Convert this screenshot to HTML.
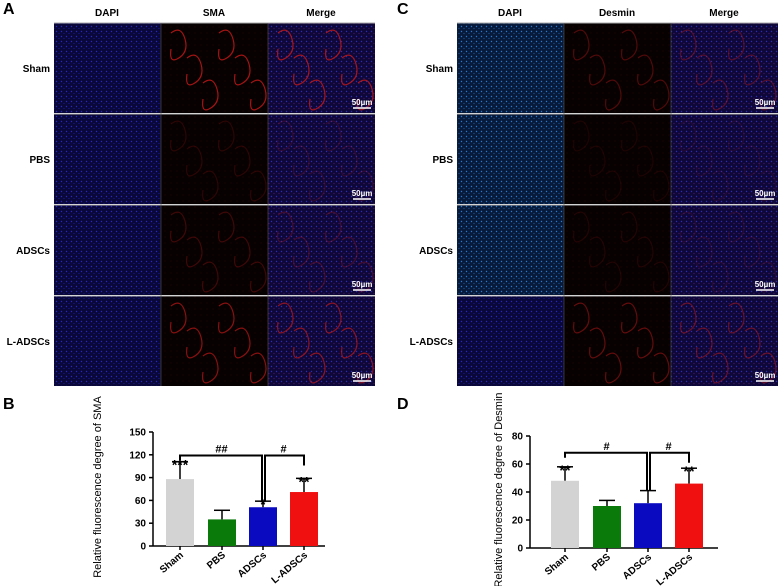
<!DOCTYPE html>
<html><head><meta charset="utf-8">
<style>
body{margin:0;background:#fff;}
svg{display:block;font-family:"Liberation Sans",Arial,sans-serif;}
.hd{font-size:10px;font-weight:bold;}
.rl{font-size:10px;font-weight:bold;}
.pl{font-size:16px;font-weight:bold;}
.tk{font-size:10px;font-weight:bold;}
.sig{font-size:12px;font-weight:bold;}
</style></head>
<body>
<svg id="fig" width="778" height="586" viewBox="0 0 778 586">
<defs>
<pattern id="pBlue" width="5" height="5" patternUnits="userSpaceOnUse">
<rect width="5" height="5" fill="#0a0838"/><circle cx="1.5" cy="1.5" r="0.7" fill="#2a28c0"/><circle cx="4" cy="3.5" r="0.6" fill="#1a18a0"/></pattern>
<pattern id="pCyan" width="5" height="5" patternUnits="userSpaceOnUse">
<rect width="5" height="5" fill="#081a3a"/><circle cx="1.5" cy="1.5" r="0.7" fill="#2a7ad0"/><circle cx="4" cy="3.5" r="0.6" fill="#1a58a0"/></pattern>
<pattern id="pRed" width="6" height="6" patternUnits="userSpaceOnUse">
<rect width="6" height="6" fill="#070101"/><circle cx="3" cy="3" r="0.5" fill="#300606"/></pattern>
<pattern id="pMerge" width="5" height="5" patternUnits="userSpaceOnUse">
<rect width="5" height="5" fill="#0e0838"/><circle cx="1.5" cy="1.5" r="0.7" fill="#2c2cb8"/><circle cx="4" cy="3.5" r="0.6" fill="#4a1868"/></pattern>
</defs>
<g id="micro"></g>
<g id="chartB"></g>
<g id="chartD"></g>
</svg>
<script>
const NS="http://www.w3.org/2000/svg";
function mk(parent,tag,attrs,txt){const e=document.createElementNS(NS,tag);for(const k in attrs)e.setAttribute(k,attrs[k]);if(txt!==undefined)e.textContent=txt;parent.appendChild(e);return e;}

// ---- micrograph panels ----
const rows=["Sham","PBS","ADSCs","L-ADSCs"];
const colsA=["DAPI","SMA","Merge"];
const colsC=["DAPI","Desmin","Merge"];
const redIntensityA=[0.85,0.2,0.3,0.7];
const redIntensityC=[0.4,0.12,0.15,0.5];
const rowY=[23,114,205,296];
const rowH=90;
const micro=document.getElementById('micro');
function panel(x0,cols,letter,letterX,ints,cyan){
  const t=mk(micro,'text',{x:letterX,y:14,class:'pl'},letter);
  
  
  cols.forEach((c,i)=>{
    const h=mk(micro,'text',{x:x0+i*107+53,y:16,class:'hd','text-anchor':'middle'},c);
    
    
  });
  rows.forEach((r,ri)=>{
    const y=rowY[ri];
    const l=mk(micro,'text',{x:x0-4,y:y+rowH/2+4,class:'rl','text-anchor':'end'},r);
    
    
    cols.forEach((c,ci)=>{
      const x=x0+ci*107;
      const fill=ci==0?(cyan&&ri<3?'url(#pCyan)':'url(#pBlue)'):ci==1?'url(#pRed)':'url(#pMerge)';
      const im=mk(micro,'rect',{x:x,y:y,width:107,height:rowH,fill:fill});
      
      
      if(ci>0){
        const a=ints[ri];
        const g=mk(micro,'g',{stroke:'#c01818','stroke-width':1.2,fill:'none',opacity:a});
        for(let k=0;k<6;k++){
          const px=x+10+k*16, py=y+10+(k%3)*25;
          mk(g,'path',{d:`M${px} ${py} q10 -8 14 6 q4 14 -8 20 q-8 4 -6 -10`});
        }
      }
    });
    mk(micro,'line',{x1:x0,y1:y,x2:x0+321,y2:y,stroke:'#aaa','stroke-width':1});
    const sb=mk(micro,'line',{x1:x0+321-22,y1:y+rowH-5,x2:x0+321-4,y2:y+rowH-5,stroke:'#fff','stroke-width':1.5});
    
    
    mk(micro,'text',{x:x0+321-13,y:y+rowH-8,fill:'#fff','font-size':8,'font-weight':'bold','text-anchor':'middle'},'50µm');
  });
  mk(micro,'line',{x1:x0+107,y1:23,x2:x0+107,y2:386,stroke:'#555','stroke-width':0.6});
  mk(micro,'line',{x1:x0+214,y1:23,x2:x0+214,y2:386,stroke:'#555','stroke-width':0.6});
}
panel(54,colsA,'A',3,redIntensityA,false);
panel(457,colsC,'C',397,redIntensityC,true);

// ---- bar charts ----
const categories=["Sham","PBS","ADSCs","L-ADSCs"];
const colors=["#d3d3d3","#0a7a0a","#0a0ac0","#f01010"];
const smaValues=[88,35,51,71];
const smaErrors=[23,12,8,18];
const smaTicks=[0,30,60,90,120,150];
const smaStars=["***","","*","**"];
const desminValues=[48,30,32,46];
const desminErrors=[10,4,9,11];
const desminTicks=[0,20,40,60,80];
const desminStars=["**","","","**"];

function chart(gid,cfg){
  const g=document.getElementById(gid);
  const {ax,yTop,yBot,xEnd,ymax,centers,vals,errs,ticks,stars,title,titleX,titleY,letter,letterX,bracketVal,hashes}=cfg;
  const ys=v=>yBot-(v/ymax)*(yBot-yTop);
  const L=mk(g,'text',{x:letterX,y:409,class:'pl'},letter);
  
  
  const yt=mk(g,'text',{transform:`translate(${titleX},${titleY}) rotate(-90)`,'font-size':11,'text-anchor':'middle'},title);
  
  
  const yl=mk(g,'line',{x1:ax,y1:yTop,x2:ax,y2:yBot,stroke:'#000','stroke-width':1.5});
  
  
  const xl=mk(g,'line',{x1:ax,y1:yBot,x2:xEnd,y2:yBot,stroke:'#000','stroke-width':1.5});
  
  
  ticks.forEach(t=>{
    mk(g,'line',{x1:ax-4,y1:ys(t),x2:ax,y2:ys(t),stroke:'#000','stroke-width':1.5});
    const tl=mk(g,'text',{x:ax-7,y:ys(t)+3.5,class:'tk','text-anchor':'end'},t);
    
    
  });
  const bw=28;
  categories.forEach((c,i)=>{
    const cx=centers[i];
    mk(g,'line',{x1:cx,y1:ys(vals[i]+errs[i]),x2:cx,y2:ys(vals[i]),stroke:'#000','stroke-width':1.5});
    mk(g,'line',{x1:cx-8,y1:ys(vals[i]+errs[i]),x2:cx+8,y2:ys(vals[i]+errs[i]),stroke:'#000','stroke-width':1.5});
    const b=mk(g,'rect',{x:cx-bw/2,y:ys(vals[i]),width:bw,height:yBot-ys(vals[i]),fill:colors[i]});
    
    
    mk(g,'line',{x1:cx,y1:yBot,x2:cx,y2:yBot+4,stroke:'#000','stroke-width':1.5});
    const xl=mk(g,'text',{transform:`translate(${cx+4},${yBot+10}) rotate(-40)`,class:'tk','text-anchor':'end'},c);
    
    
    if(stars[i]){
      const s=mk(g,'text',{x:cx,y:ys(vals[i]+errs[i])+8,'font-size':14,'font-weight':'bold','text-anchor':'middle'},stars[i]);
      
      
    }
  });
  const by=ys(bracketVal);
  const br=mk(g,'g',{stroke:'#000','stroke-width':2,fill:'none'});
  
  
  mk(br,'path',{d:`M${centers[0]} ${by+5} V${by} H${centers[2]-1} V${ys(vals[2]+errs[2])}`});
  mk(br,'path',{d:`M${centers[2]+2} ${ys(vals[2]+errs[2])} V${by} H${centers[3]} V${by+10}`});
  const h1=mk(g,'text',{x:(centers[0]+centers[2])/2,y:by-3,'font-size':11,'font-weight':'bold','text-anchor':'middle'},hashes[0]);
  
  
  const h2=mk(g,'text',{x:(centers[2]+centers[3])/2,y:by-3,'font-size':11,'font-weight':'bold','text-anchor':'middle'},hashes[1]);
  
  
}
chart('chartB',{ax:153,yTop:432,yBot:546,xEnd:325,ymax:150,centers:[180,222,263,304],vals:smaValues,errs:smaErrors,ticks:smaTicks,stars:smaStars,title:'Relative fluorescence degree of SMA',titleX:101,titleY:487,letter:'B',letterX:3,bracketVal:119,hashes:['##','#']});
chart('chartD',{ax:530,yTop:436,yBot:548,xEnd:718,ymax:80,centers:[565,607,648,689],vals:desminValues,errs:desminErrors,ticks:desminTicks,stars:desminStars,title:'Relative fluorescence degree of Desmin',titleX:502,titleY:490,letter:'D',letterX:397,bracketVal:68,hashes:['#','#']});
</script>
</body></html>
